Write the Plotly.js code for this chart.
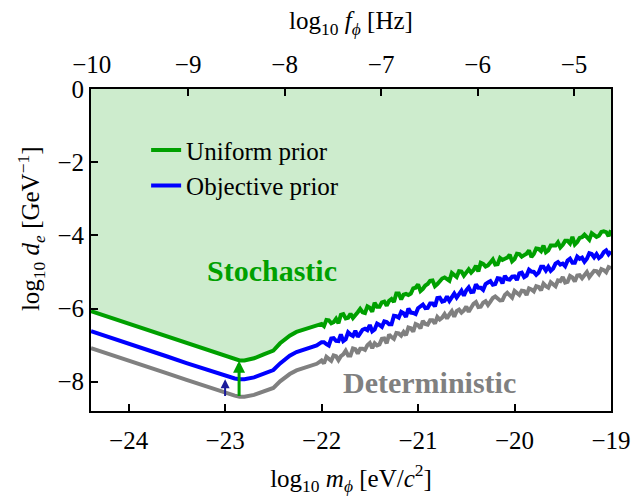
<!DOCTYPE html>
<html>
<head>
<meta charset="utf-8">
<script src="https://cdn.plot.ly/plotly-3.0.1.min.js"></script>
<style>html,body{margin:0;padding:0;background:#fff}</style>
</head>
<body>
<div id="chart" style="width:635px;height:500px"></div>
<script>
// log10 of mass [eV/c^2]
const logMass = [-24.39, -24.2, -24.0, -23.8, -23.6, -23.4, -23.2, -23.1, -23.0, -22.9, -22.85, -22.8, -22.7, -22.6, -22.5, -22.43, -22.33, -22.26, -22.15, -22.05,
  -22.000, -21.975, -21.950, -21.925, -21.900, -21.875, -21.850, -21.825, -21.800, -21.775, -21.750, -21.725, -21.700, -21.675, -21.650, -21.625, -21.600, -21.575, -21.550, -21.525,
  -21.500, -21.475, -21.450, -21.425, -21.400, -21.375, -21.350, -21.325, -21.300, -21.275, -21.250, -21.225, -21.200, -21.175, -21.150, -21.125, -21.100, -21.075, -21.050, -21.025,
  -21.000, -20.975, -20.950, -20.925, -20.900, -20.875, -20.850, -20.825, -20.800, -20.775, -20.750, -20.725, -20.700, -20.675, -20.650, -20.625, -20.600, -20.575, -20.550, -20.525,
  -20.500, -20.475, -20.450, -20.425, -20.400, -20.375, -20.350, -20.325, -20.300, -20.275, -20.250, -20.225, -20.200, -20.175, -20.150, -20.125, -20.100, -20.075, -20.050, -20.025,
  -20.000, -19.975, -19.950, -19.925, -19.900, -19.875, -19.850, -19.825, -19.800, -19.775, -19.750, -19.725, -19.700, -19.675, -19.650, -19.625, -19.600, -19.575, -19.550, -19.525,
  -19.500, -19.475, -19.450, -19.425, -19.400, -19.375, -19.350, -19.325, -19.300, -19.275, -19.250, -19.225, -19.200, -19.175, -19.150, -19.125, -19.100, -19.075, -19.050, -19.025,
  -19.000];

// Uniform prior (green)
const uniformPrior = [-6.07, -6.24, -6.41, -6.59, -6.77, -6.95, -7.13, -7.22, -7.31, -7.39, -7.42, -7.42, -7.36, -7.25, -7.15, -6.95, -6.74, -6.64, -6.55, -6.47,
  -6.42, -6.48, -6.31, -6.32, -6.40, -6.37, -6.28, -6.40, -6.17, -6.15, -6.27, -6.25, -6.14, -6.26, -6.16, -6.10, -6.01, -6.10, -6.12, -5.94,
  -5.98, -6.09, -5.84, -5.95, -5.95, -5.83, -5.81, -5.92, -5.79, -5.74, -5.82, -5.59, -5.59, -5.75, -5.62, -5.60, -5.63, -5.59, -5.45, -5.43,
  -5.34, -5.52, -5.46, -5.37, -5.33, -5.24, -5.23, -5.39, -5.33, -5.25, -5.18, -5.15, -5.19, -5.24, -5.03, -5.10, -5.14, -4.98, -4.99, -5.10,
  -4.99, -4.93, -5.02, -4.95, -4.83, -4.99, -4.75, -4.78, -4.85, -4.82, -4.74, -4.66, -4.80, -4.79, -4.62, -4.67, -4.64, -4.61, -4.53, -4.71,
  -4.65, -4.50, -4.51, -4.58, -4.54, -4.50, -4.41, -4.59, -4.51, -4.36, -4.37, -4.43, -4.28, -4.46, -4.41, -4.28, -4.28, -4.28, -4.19, -4.33,
  -4.26, -4.15, -4.15, -4.22, -4.04, -4.25, -4.18, -4.07, -4.05, -3.98, -4.05, -4.12, -3.94, -3.99, -4.04, -4.01, -3.91, -3.89, -3.91, -4.02,
  -3.86];

// Objective prior (blue)
const objectivePrior = [-6.62, -6.78, -6.95, -7.13, -7.31, -7.49, -7.66, -7.75, -7.84, -7.91, -7.93, -7.93, -7.88, -7.78, -7.68, -7.50, -7.29, -7.19, -7.10, -7.01,
  -6.92, -6.92, -6.97, -7.01, -6.82, -6.81, -6.88, -6.89, -6.71, -6.89, -6.84, -6.65, -6.71, -6.75, -6.61, -6.77, -6.68, -6.58, -6.55, -6.59,
  -6.45, -6.62, -6.57, -6.41, -6.45, -6.50, -6.35, -6.37, -6.43, -6.43, -6.20, -6.21, -6.25, -6.09, -6.13, -6.23, -6.00, -6.11, -6.12, -6.15,
  -5.99, -5.93, -5.89, -5.99, -5.98, -5.86, -5.86, -5.94, -5.71, -5.70, -5.81, -5.79, -5.67, -5.79, -5.66, -5.59, -5.70, -5.61, -5.51, -5.65,
  -5.50, -5.42, -5.55, -5.54, -5.34, -5.43, -5.43, -5.49, -5.33, -5.29, -5.25, -5.35, -5.33, -5.17, -5.18, -5.31, -5.11, -5.20, -5.21, -5.13,
  -5.12, -5.22, -5.04, -5.02, -5.14, -5.10, -4.94, -4.99, -5.00, -5.08, -5.02, -4.86, -4.86, -4.96, -4.86, -4.97, -4.91, -4.77, -4.73, -4.80,
  -4.77, -4.84, -4.69, -4.64, -4.75, -4.75, -4.58, -4.64, -4.61, -4.72, -4.64, -4.49, -4.51, -4.60, -4.51, -4.62, -4.57, -4.46, -4.41, -4.52,
  -4.44];

// Deterministic (gray)
const deterministic = [-7.08, -7.24, -7.41, -7.59, -7.77, -7.95, -8.13, -8.22, -8.31, -8.38, -8.41, -8.41, -8.36, -8.26, -8.17, -7.99, -7.79, -7.69, -7.59, -7.51,
  -7.42, -7.50, -7.32, -7.38, -7.43, -7.28, -7.30, -7.41, -7.30, -7.25, -7.15, -7.28, -7.28, -7.09, -7.11, -7.23, -7.10, -7.10, -7.13, -7.00,
  -6.94, -7.08, -6.95, -7.01, -6.98, -6.83, -6.82, -6.95, -6.71, -6.78, -6.83, -6.67, -6.68, -6.74, -6.64, -6.73, -6.52, -6.54, -6.63, -6.42,
  -6.45, -6.54, -6.34, -6.42, -6.44, -6.32, -6.32, -6.41, -6.23, -6.30, -6.25, -6.15, -6.27, -6.16, -6.07, -6.22, -6.07, -6.03, -6.11, -6.05,
  -5.95, -6.09, -5.97, -5.87, -5.82, -5.96, -5.95, -5.84, -5.80, -5.90, -5.81, -5.71, -5.67, -5.74, -5.78, -5.77, -5.63, -5.57, -5.63, -5.70,
  -5.52, -5.59, -5.63, -5.51, -5.52, -5.63, -5.45, -5.48, -5.53, -5.39, -5.41, -5.50, -5.32, -5.39, -5.43, -5.28, -5.32, -5.39, -5.23, -5.25,
  -5.14, -5.29, -5.27, -5.11, -5.15, -5.26, -5.10, -5.09, -5.17, -5.10, -5.00, -5.14, -5.05, -4.97, -4.98, -5.06, -4.92, -4.95, -5.01, -4.87,
  -4.90];

const massTicks = [-24, -23, -22, -21, -20, -19];
const freqTicks = [-10, -9, -8, -7, -6, -5];
const deTicks = [0, -2, -4, -6, -8];
const massRange = [-24.39, -19.0];
const deRange = [-8.8, 0];
const freqOffset = 14.383; // log10(eV/h in Hz)

// arrows: x position, tail, head
const arrowMass = [-23.0, -22.855];
const arrowTail = [-8.43, -8.43];
const arrowHead = [-7.93, -7.43];
const arrowColors = ['#1a1a9a', '#00a000'];

const serif = '"Liberation Serif", "Times New Roman", serif';
const GREEN = '#00a000', BLUE = '#0000ff', GRAY = '#808080';

const fillX = logMass.concat([massRange[1], massRange[0]]);
const fillY = uniformPrior.concat([deRange[1], deRange[1]]);

const traces = [
  {x: fillX, y: fillY, mode: 'lines', fill: 'toself', fillcolor: '#cdeccd',
   line: {width: 0}, showlegend: false, hoverinfo: 'skip'},
  {x: logMass, y: deterministic, mode: 'lines', name: 'Deterministic',
   line: {color: GRAY, width: 4}, showlegend: false},
  {x: logMass, y: objectivePrior, mode: 'lines', name: 'Objective prior',
   line: {color: BLUE, width: 4}, legendrank: 2},
  {x: logMass, y: uniformPrior, mode: 'lines', name: 'Uniform prior',
   line: {color: GREEN, width: 4}, legendrank: 1},
  {x: freqTicks, y: freqTicks.map(() => null), xaxis: 'x2', yaxis: 'y',
   mode: 'lines', showlegend: false, hoverinfo: 'skip'}
];

const annotations = [
  {x: -22.51, y: -4.97, xref: 'x', yref: 'y', text: '<b>Stochastic</b>', showarrow: false,
   font: {family: serif, size: 30, color: GREEN}},
  {x: -20.88, y: -8.03, xref: 'x', yref: 'y', text: '<b>Deterministic</b>', showarrow: false,
   font: {family: serif, size: 30, color: GRAY}},
  // y-axis title (placed as in the reference, slightly above the axis centre)
  {x: -0.1154, y: 0.568, xref: 'paper', yref: 'paper', xanchor: 'center', yanchor: 'middle',
   textangle: -90, showarrow: false,
   text: 'log<sub>10</sub> <i>d</i><sub><i>e</i></sub> [GeV<sup>−1</sup>]',
   font: {family: serif, size: 25, color: '#000'}}
];
arrowMass.forEach((m, i) => {
  annotations.push({x: m, y: arrowHead[i], ax: m, ay: arrowTail[i], xref: 'x', yref: 'y',
    axref: 'x', ayref: 'y', text: '', showarrow: true, arrowhead: 2,
    arrowsize: i === 0 ? 0.9 : 0.8, arrowwidth: i === 0 ? 2 : 3, arrowcolor: arrowColors[i], standoff: 0,
    font: {family: serif, size: 12}});
});

const axisCommon = {
  showgrid: false, zeroline: false, showline: true, linecolor: '#000', linewidth: 2,
  ticks: 'inside', ticklen: 7, tickwidth: 2, tickcolor: '#000',
  tickfont: {family: serif, size: 25, color: '#000'}
};

const layout = {
  width: 635, height: 500,
  margin: {l: 91, r: 24, t: 89, b: 89, pad: 0},
  paper_bgcolor: '#fff', plot_bgcolor: '#fff',
  font: {family: serif, size: 25, color: '#000'},
  xaxis: Object.assign({}, axisCommon, {
    range: massRange, tickvals: massTicks, mirror: true, ticklabelstandoff: 6,
    title: {text: 'log<sub>10</sub> <i>m</i><sub><i>ϕ</i></sub> [eV/<i>c</i><sup>2</sup>]', font: {family: serif, size: 25}, standoff: 16}
  }),
  xaxis2: Object.assign({}, axisCommon, {
    overlaying: 'x', side: 'top', anchor: 'y',
    range: [massRange[0] + freqOffset, massRange[1] + freqOffset], tickvals: freqTicks, ticklabelstandoff: 4,
    title: {text: 'log<sub>10</sub> <i>f</i><sub><i>ϕ</i></sub> [Hz]', font: {family: serif, size: 25}, standoff: 14}
  }),
  yaxis: Object.assign({}, axisCommon, {
    range: deRange, tickvals: deTicks, mirror: true
  }),
  legend: {x: 0.106, y: 0.881, xanchor: 'left', yanchor: 'top', bgcolor: 'rgba(0,0,0,0)',
    font: {family: serif, size: 25, color: '#000'}, tracegroupgap: 0},
  annotations: annotations,
  showlegend: true
};

Plotly.newPlot('chart', traces, layout, {displayModeBar: false, staticPlot: true});
</script>
</body>
</html>
